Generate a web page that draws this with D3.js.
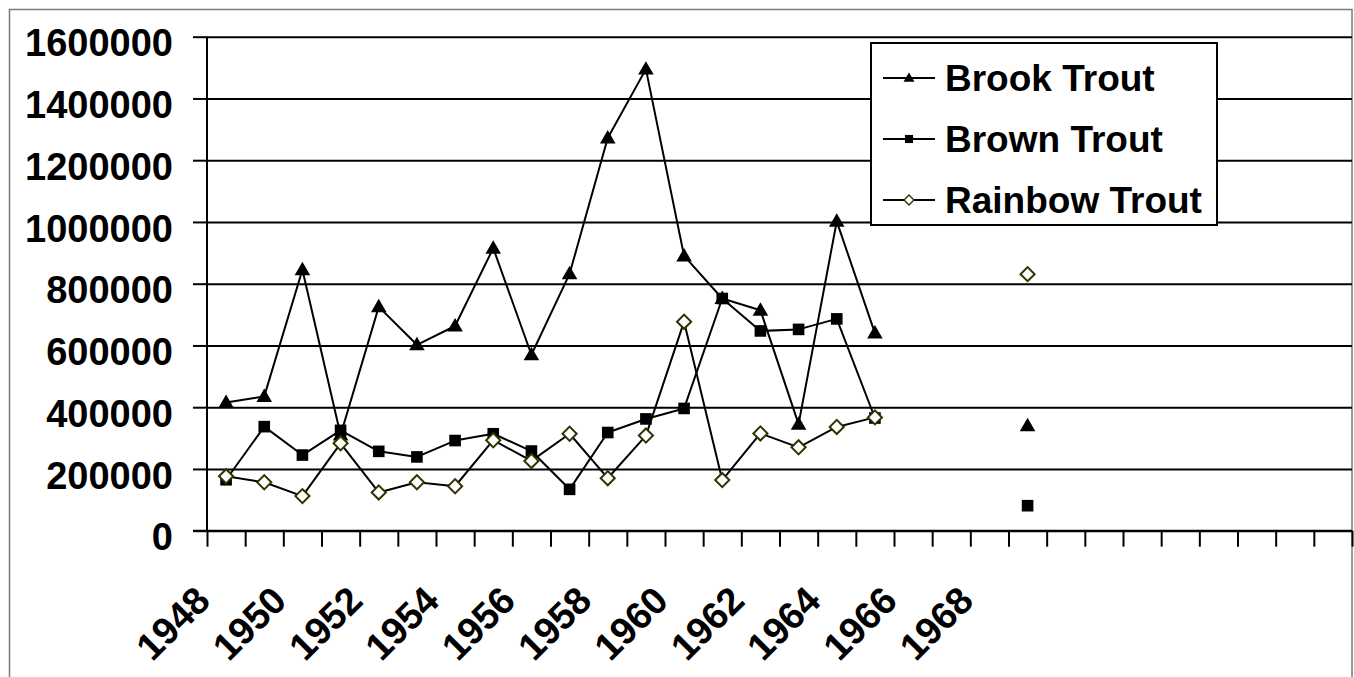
<!DOCTYPE html>
<html>
<head>
<meta charset="utf-8">
<script src="https://cdn.jsdelivr.net/npm/d3@7"></script>
<style>
  html, body { margin: 0; padding: 0; background: #fff; }
  svg { display: block; }
</style>
</head>
<body>
<div id="chart"></div>
<script>
// ── Data ────────────────────────────────────────────────────
// 30 category slots; only 1948..1969 carry a year, the rest are blank
const years = ["1948","1949","1950","1951","1952","1953","1954","1955","1956","1957",
               "1958","1959","1960","1961","1962","1963","1964","1965","1966","1967",
               "1968","1969","","","","","","","",""];

const brookTrout = [415000, 435000, 845000, 310000, 725000, 602000, 663000, 915000, 570000, 832000,
                    1272000, 1495000, 890000, 752000, 714000, 345000, 1002000, 640000, null, null,
                    null, 340000, null, null, null, null, null, null, null, null];

const brownTrout = [165000, 337000, 245000, 325000, 257000, 239000, 292000, 314000, 258000, 134000,
                    318000, 362000, 396000, 752000, 647000, 652000, 686000, 365000, null, null,
                    null, 81000, null, null, null, null, null, null, null, null];

const rainbowTrout = [176000, 157000, 112000, 283000, 124000, 157000, 144000, 293000, 226000, 314000,
                      170000, 308000, 677000, 164000, 315000, 270000, 336000, 367000, null, null,
                      null, 831000, null, null, null, null, null, null, null, null];

const yTicks = [0, 200000, 400000, 600000, 800000, 1000000, 1200000, 1400000, 1600000];

const seriesNames = ["Brook Trout", "Brown Trout", "Rainbow Trout"];

// ── Canvas ──────────────────────────────────────────────────
const W = 1354, H = 677;
const plot = { left: 207, right: 1352, top: 36.7, bottom: 530.7 };
const FONT = "'Liberation Sans', Arial, Helvetica, sans-serif";

const svg = d3.select("#chart").append("svg")
  .attr("width", W).attr("height", H)
  .attr("viewBox", `0 0 ${W} ${H}`);

// Chart area border (bottom edge falls outside the window)
svg.append("rect")
  .attr("x", 9.5).attr("y", 9.5)
  .attr("width", plot.right - 9.5).attr("height", H + 20)
  .attr("fill", "#fff")
  .attr("stroke", "#7a7a7a").attr("stroke-width", 1.5);

// ── Scales ──────────────────────────────────────────────────
const x = d3.scaleBand()
  .domain(d3.range(years.length))
  .range([plot.left, plot.right])
  .padding(0);

const xEdge = d3.scaleLinear()
  .domain([0, years.length])
  .range([plot.left, plot.right]);

const y = d3.scaleLinear()
  .domain([0, 1600000])
  .range([plot.bottom, plot.top]);

const cx = i => x(i) + x.bandwidth() / 2;

// ── Gridlines + y axis ──────────────────────────────────────
svg.append("g")
  .attr("transform", `translate(${plot.left},0)`)
  .call(d3.axisLeft(y).tickValues(yTicks).tickSize(-(plot.right - plot.left)).tickFormat(""))
  .call(g => g.select(".domain").remove())
  .call(g => g.selectAll("line").attr("stroke", "#000").attr("stroke-width", 2));

const yAxis = svg.append("g")
  .attr("transform", `translate(${plot.left},0)`)
  .call(d3.axisLeft(y).tickValues(yTicks).tickSize(14).tickPadding(20).tickFormat(d3.format("d")));

yAxis.select(".domain").attr("stroke", "#000").attr("stroke-width", 2).attr("d", `M0,${plot.top}V${plot.bottom}`);
yAxis.selectAll("line").attr("stroke", "#000").attr("stroke-width", 2);
yAxis.selectAll("text")
  .attr("font-family", FONT).attr("font-size", 38).attr("font-weight", "bold")
  .attr("fill", "#000")
  .attr("y", 7);

// ── x axis: ticks on category edges ─────────────────────────
const xAxis = svg.append("g")
  .attr("transform", `translate(0,${plot.bottom})`)
  .call(d3.axisBottom(xEdge).tickValues(d3.range(years.length + 1)).tickSize(16).tickFormat(""));

xAxis.select(".domain").attr("stroke", "#000").attr("stroke-width", 2).attr("d", `M${plot.left - 14},0H${plot.right}`);
xAxis.selectAll("line").attr("stroke", "#000").attr("stroke-width", 2);

// Year labels every second category, rotated 45°
svg.append("g").selectAll("text")
  .data(years.map((label, i) => ({ label, i })).filter(d => d.i % 2 === 0 && d.label))
  .enter()
  .append("text")
  .attr("transform", d => `translate(${cx(d.i) - 14},${plot.bottom + 72}) rotate(-45)`)
  .attr("text-anchor", "end")
  .attr("font-family", FONT).attr("font-size", 38).attr("font-weight", "bold")
  .attr("fill", "#000")
  .text(d => d.label);

// ── Lines ───────────────────────────────────────────────────
const line = d3.line()
  .defined(d => d != null)
  .x((d, i) => cx(i))
  .y(d => y(d));

const allSeries = [brookTrout, brownTrout, rainbowTrout];

svg.append("g").selectAll("path")
  .data(allSeries)
  .enter()
  .append("path")
  .attr("d", d => line(d))
  .attr("fill", "none")
  .attr("stroke", "#000")
  .attr("stroke-width", 2)
  .attr("stroke-linejoin", "round");

// ── Markers ─────────────────────────────────────────────────
const triSym = d3.symbol().type(d3.symbolTriangle).size(105);
const sqSym = d3.symbol().type(d3.symbolSquare).size(135);
const diaSym = d3.symbol().type(d3.symbolSquare).size(100);

function drawMarker(g, kind) {
  if (kind === 0) {
    g.append("path").attr("d", triSym()).attr("transform", "translate(0,1)").attr("fill", "#000");
  } else if (kind === 1) {
    g.append("path").attr("d", sqSym()).attr("fill", "#000");
  } else {
    g.append("path").attr("d", diaSym())
      .attr("transform", "rotate(45)")
      .attr("fill", "#fff").attr("stroke", "#333300").attr("stroke-width", 2);
  }
}

allSeries.forEach((series, k) => {
  const pts = series.map((v, i) => ({ v, i })).filter(d => d.v != null);
  svg.append("g").selectAll("g")
    .data(pts)
    .enter()
    .append("g")
    .attr("transform", d => `translate(${cx(d.i)},${y(d.v)})`)
    .each(function () { drawMarker(d3.select(this), k); });
});

// ── Legend ──────────────────────────────────────────────────
const legend = svg.append("g");
legend.append("rect")
  .attr("x", 871).attr("y", 43).attr("width", 346).attr("height", 182)
  .attr("fill", "#fff").attr("stroke", "#000").attr("stroke-width", 2);

const legendRows = [78, 139, 200];
seriesNames.forEach((name, k) => {
  const row = legend.append("g").attr("transform", `translate(0,${legendRows[k]})`);
  row.append("line").attr("x1", 883).attr("x2", 935).attr("y1", 0).attr("y2", 0)
    .attr("stroke", "#000").attr("stroke-width", 2);
  const m = row.append("g").attr("transform", "translate(909,0) scale(0.7)");
  drawMarker(m, k);
  row.append("text")
    .attr("x", 945).attr("y", 0).attr("dy", "0.36em")
    .attr("font-family", FONT).attr("font-size", 37).attr("font-weight", "bold")
    .attr("fill", "#000")
    .text(name);
});
</script>
</body>
</html>
